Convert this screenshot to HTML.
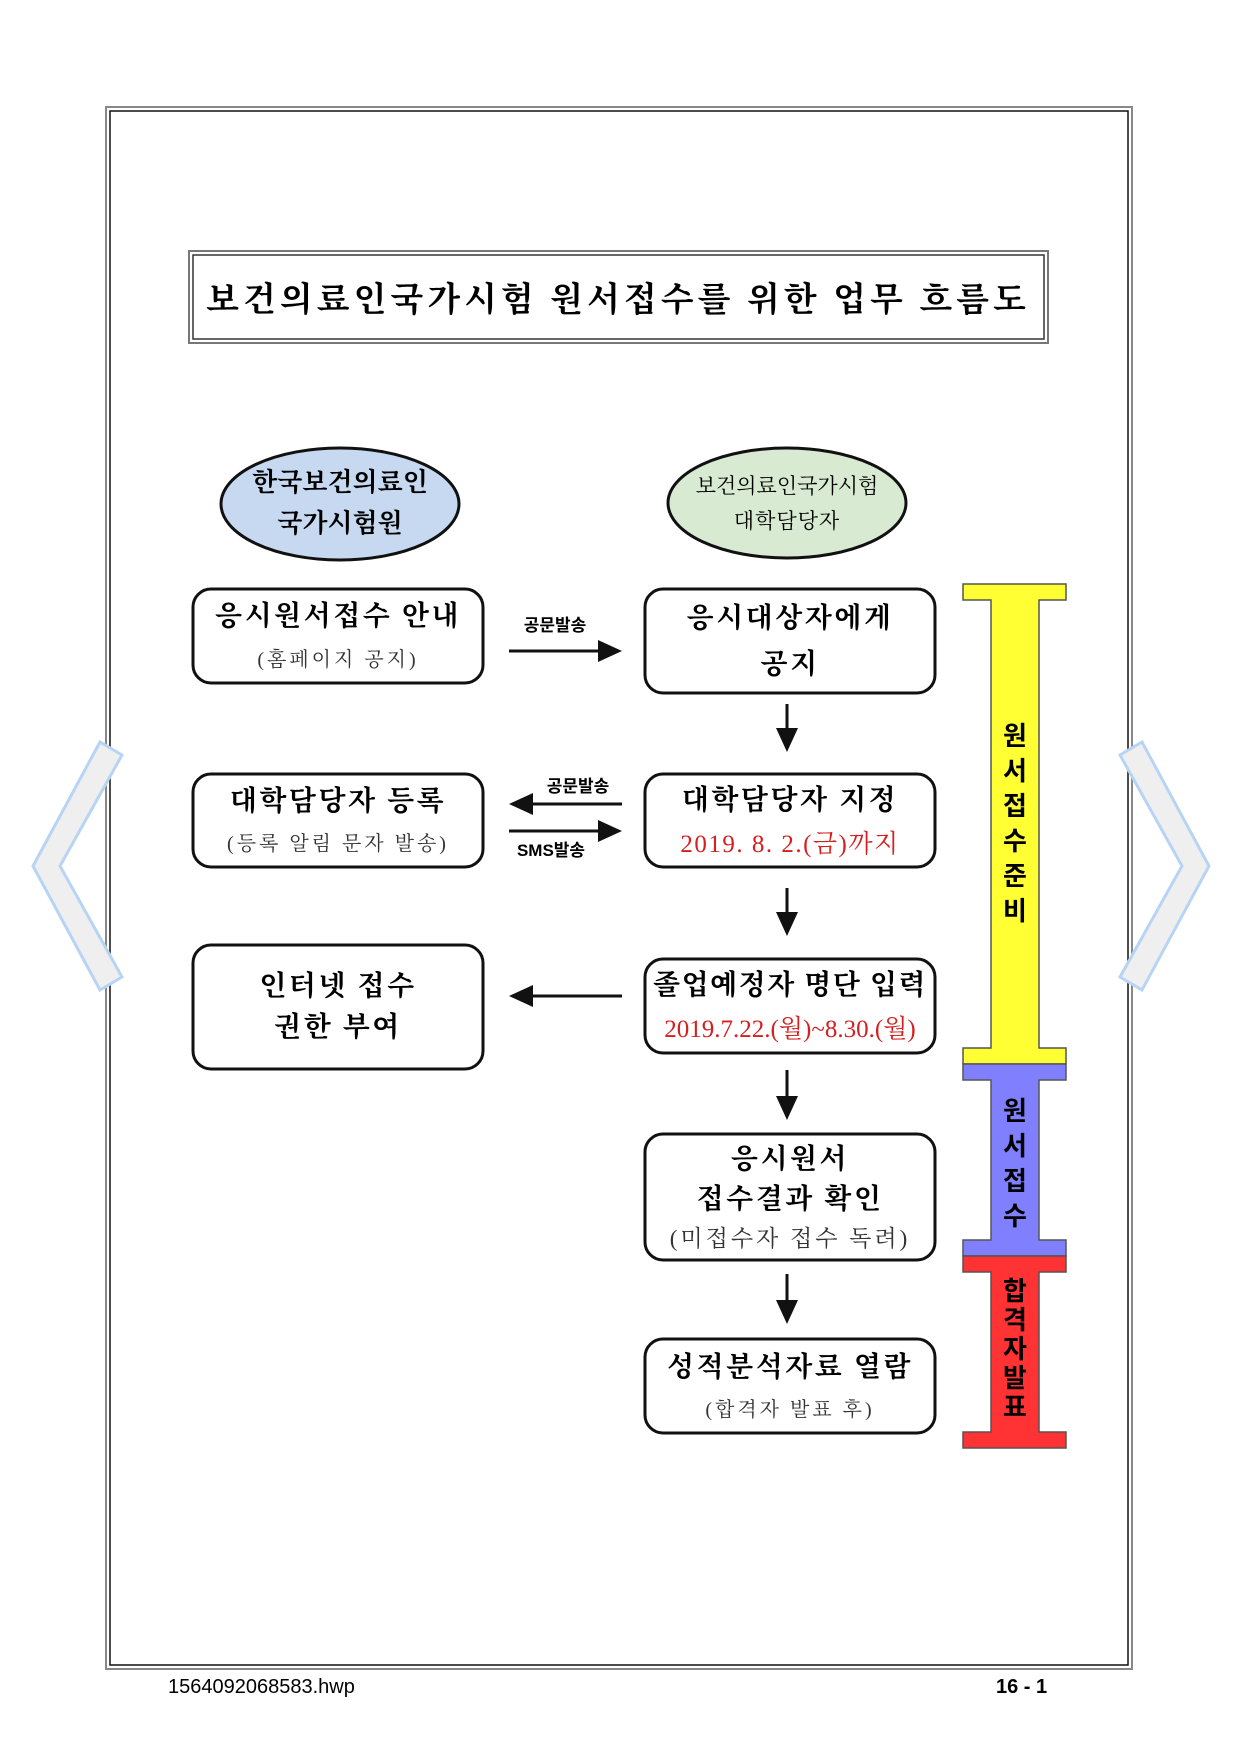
<!DOCTYPE html>
<html><head><meta charset="utf-8"><style>
html,body{margin:0;padding:0;background:#fff;}
svg{display:block;}
.s{font-family:"Liberation Serif","Noto Serif CJK SC",serif;}
.g{font-family:"Liberation Sans","Noto Sans CJK KR",sans-serif;}
</style></head><body>
<svg width="1242" height="1738" viewBox="0 0 1242 1738" xmlns="http://www.w3.org/2000/svg">
<rect x="0" y="0" width="1242" height="1738" fill="#fff"/>
<rect x="106" y="107" width="1026" height="1562" fill="none" stroke="#888" stroke-width="2"/>
<rect x="110" y="111" width="1018" height="1554" fill="none" stroke="#111" stroke-width="1.5"/>
<rect x="189" y="251" width="859" height="92" fill="none" stroke="#777" stroke-width="2"/>
<rect x="193" y="255" width="851" height="84" fill="none" stroke="#333" stroke-width="1.5"/>
<text x="618" y="311" text-anchor="middle" class="s" font-size="34" font-weight="bold" letter-spacing="4">보건의료인국가시험 원서접수를 위한 업무 흐름도</text>
<ellipse cx="340" cy="504" rx="119" ry="56" fill="#c6d9f0" stroke="#111" stroke-width="3"/>
<text x="340" y="491" text-anchor="middle" class="s" font-size="26" font-weight="bold">한국보건의료인</text>
<text x="340" y="532" text-anchor="middle" class="s" font-size="26" font-weight="bold">국가시험원</text>
<ellipse cx="787" cy="503" rx="119" ry="55" fill="#d8ebd2" stroke="#111" stroke-width="3"/>
<text x="787" y="493" text-anchor="middle" class="s" font-size="21">보건의료인국가시험</text>
<text x="787" y="528" text-anchor="middle" class="s" font-size="21" letter-spacing="1">대학담당자</text>
<g fill="#fff" stroke="#111" stroke-width="3">
<rect x="193" y="589" width="290" height="94" rx="18"/>
<rect x="193" y="774" width="290" height="93" rx="18"/>
<rect x="193" y="945" width="290" height="124" rx="18"/>
<rect x="645" y="589" width="290" height="104" rx="18"/>
<rect x="645" y="774" width="290" height="93" rx="18"/>
<rect x="645" y="959" width="290" height="94" rx="18"/>
<rect x="645" y="1134" width="290" height="126" rx="18"/>
<rect x="645" y="1339" width="290" height="94" rx="18"/>
</g>
<g class="s" text-anchor="middle">
<text x="338" y="625" font-size="28" font-weight="bold" letter-spacing="2.5">응시원서접수 안내</text>
<text x="338" y="666" font-size="20" fill="#333" letter-spacing="3">(홈페이지 공지)</text>
<text x="338" y="810" font-size="28" font-weight="bold" letter-spacing="2.5">대학담당자 등록</text>
<text x="338" y="850" font-size="20" fill="#333" letter-spacing="3">(등록 알림 문자 발송)</text>
<text x="338" y="995" font-size="28" font-weight="bold" letter-spacing="2.5">인터넷 접수</text>
<text x="338" y="1036" font-size="28" font-weight="bold" letter-spacing="2.5">권한 부여</text>
<text x="790" y="627" font-size="28" font-weight="bold" letter-spacing="2.5">응시대상자에게</text>
<text x="790" y="673" font-size="28" font-weight="bold" letter-spacing="2.5">공지</text>
<text x="790" y="809" font-size="28" font-weight="bold" letter-spacing="2.5">대학담당자 지정</text>
<text x="790" y="852" font-size="25" fill="#d42020" letter-spacing="1.5">2019. 8. 2.(금)까지</text>
<text x="790" y="994" font-size="28" font-weight="bold" letter-spacing="1.5">졸업예정자 명단 입력</text>
<text x="790" y="1037" font-size="25" fill="#d42020">2019.7.22.(월)~8.30.(월)</text>
<text x="790" y="1168" font-size="28" font-weight="bold" letter-spacing="2.5">응시원서</text>
<text x="790" y="1208" font-size="28" font-weight="bold" letter-spacing="2.5">접수결과 확인</text>
<text x="790" y="1246" font-size="23" fill="#333" letter-spacing="3">(미접수자 접수 독려)</text>
<text x="790" y="1376" font-size="28" font-weight="bold" letter-spacing="2.5">성적분석자료 열람</text>
<text x="790" y="1416" font-size="20" fill="#333" letter-spacing="3">(합격자 발표 후)</text>
</g>
<g stroke="#111" stroke-width="3">
<line x1="509" y1="651" x2="600" y2="651"/>
<line x1="530" y1="804" x2="622" y2="804"/>
<line x1="509" y1="831" x2="600" y2="831"/>
<line x1="530" y1="996" x2="622" y2="996"/>
<line x1="787" y1="704" x2="787" y2="730"/>
<line x1="787" y1="888" x2="787" y2="914"/>
<line x1="787" y1="1070" x2="787" y2="1098"/>
<line x1="787" y1="1274" x2="787" y2="1302"/>
</g>
<g fill="#111">
<polygon points="598,640 622,651 598,662"/>
<polygon points="533,793 509,804 533,815"/>
<polygon points="598,820 622,831 598,842"/>
<polygon points="533,985 509,996 533,1007"/>
<polygon points="776,728 798,728 787,752"/>
<polygon points="776,912 798,912 787,936"/>
<polygon points="776,1096 798,1096 787,1120"/>
<polygon points="776,1300 798,1300 787,1324"/>
</g>
<g class="g" font-size="17" font-weight="bold" text-anchor="middle">
<text x="555" y="631">공문발송</text>
<text x="578" y="792">공문발송</text>
<text x="551" y="856">SMS발송</text>
</g>
<g stroke="#555" stroke-width="1.5">
<path d="M963,584 H1066 V600 H1039 V1048 H1066 V1064 H963 V1048 H991 V600 H963 Z" fill="#ffff33"/>
<path d="M963,1064 H1066 V1080 H1039 V1240 H1066 V1256 H963 V1240 H991 V1080 H963 Z" fill="#8080ff"/>
<path d="M963,1256 H1066 V1272 H1039 V1432 H1066 V1448 H963 V1432 H991 V1272 H963 Z" fill="#ff3333"/>
</g>
<g class="g" font-size="26" text-anchor="middle" font-weight="bold">
<text x="1015" y="745">원</text><text x="1015" y="780">서</text><text x="1015" y="815">접</text><text x="1015" y="850">수</text><text x="1015" y="885">준</text><text x="1015" y="920">비</text>
<text x="1015" y="1120">원</text><text x="1015" y="1155">서</text><text x="1015" y="1190">접</text><text x="1015" y="1225">수</text>
<text x="1015" y="1300">합</text><text x="1015" y="1329">격</text><text x="1015" y="1358">자</text><text x="1015" y="1387">발</text><text x="1015" y="1416">표</text>
</g>
<polygon points="100,742 122,755 60,866 122,977 100,990 33,866" fill="#efefef" stroke="#b8d4f4" stroke-width="3"/>
<polygon points="1142,742 1120,755 1182,866 1120,977 1142,990 1209,866" fill="#efefef" stroke="#b8d4f4" stroke-width="3"/>
<text x="168" y="1693" class="g" font-size="20">1564092068583.hwp</text>
<text x="996" y="1693" class="g" font-size="20" font-weight="bold">16 - 1</text>
</svg>
</body></html>
